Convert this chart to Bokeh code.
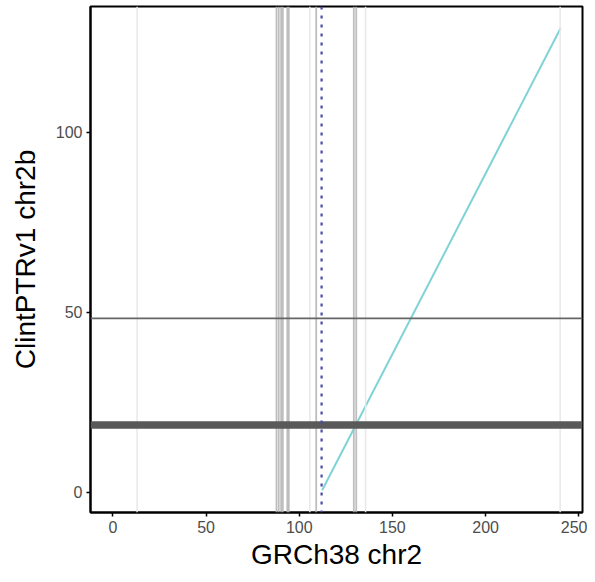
from bokeh.plotting import figure
from bokeh.models import Span, Range1d, FixedTicker
from bokeh.embed import file_html
from bokeh.resources import INLINE

# Data (Mb)
diag_x = [112.3, 240.3]
diag_y = [0.5, 129.0]
breaks_dark = [87.8, 89.0, 90.3, 91.2, 93.6, 94.4, 109.1, 129.3, 130.6]
breaks_faint = [13.0, 105.7, 135.6, 240.0]
centromere_x = [112.0]
hline_thin = [48.3]
hline_thick = [18.6]
x_ticks = [0, 50, 100, 150, 200, 250]
y_ticks = [0, 50, 100]

p = figure(width=587, height=574, output_backend="svg", toolbar_location=None,
           x_range=Range1d(-12, 252), y_range=Range1d(-5.7, 135.0),
           min_border_left=90, min_border_right=5, min_border_top=6, min_border_bottom=62)

p.xgrid.visible = False
p.ygrid.visible = False
p.outline_line_color = "black"
p.outline_line_width = 2

for x in breaks_faint:
    p.add_layout(Span(location=x, dimension="height", line_color="#e8e8e8", line_width=1.5))
for x in breaks_dark:
    p.add_layout(Span(location=x, dimension="height", line_color="#b3b3b3", line_width=1.8, line_alpha=0.85))

for y in hline_thin:
    p.add_layout(Span(location=y, dimension="width", line_color="#666666", line_width=1.8))
for y in hline_thick:
    p.add_layout(Span(location=y, dimension="width", line_color="#595959", line_width=7.5))

p.line(diag_x, diag_y, line_color="#7fd3d6", line_width=2)

for x in centromere_x:
    p.add_layout(Span(location=x, dimension="height", line_color="#4a4aa8", line_width=2.2, line_dash="3 6"))

for ax in (p.xaxis, p.yaxis):
    ax.axis_line_color = "black"
    ax.axis_line_width = 2
    ax.major_tick_line_color = "black"
    ax.major_tick_line_width = 1.5
    ax.major_tick_out = 4
    ax.major_tick_in = 0
    ax.minor_tick_line_color = None
    ax.major_label_text_font = "Liberation Sans"
    ax.major_label_text_font_size = "16px"
    ax.major_label_text_color = "#4d4d4d"
    ax.axis_label_text_font = "Liberation Sans"
    ax.axis_label_text_font_size = "28px"
    ax.axis_label_text_font_style = "normal"
    ax.axis_label_text_color = "black"

p.xaxis.ticker = FixedTicker(ticks=x_ticks)
p.yaxis.ticker = FixedTicker(ticks=y_ticks)
p.xaxis.axis_label = "GRCh38 chr2"
p.yaxis.axis_label = "ClintPTRv1 chr2b"
p.xaxis.major_label_standoff = 4
p.yaxis.major_label_standoff = 4
p.xaxis.axis_label_standoff = 3
p.yaxis.axis_label_standoff = 12

open("out.html", "w").write(file_html(p, INLINE))
